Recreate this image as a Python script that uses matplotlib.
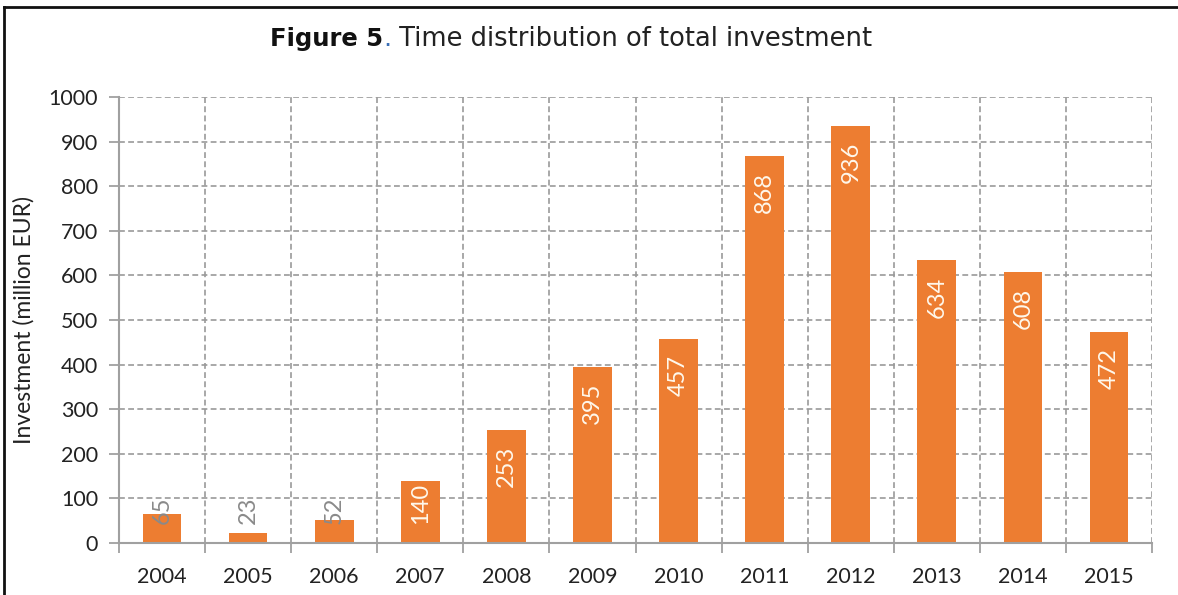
import matplotlib
matplotlib.use("Agg")
import matplotlib.pyplot as plt
from matplotlib.lines import Line2D
from matplotlib.transforms import offset_copy
import numpy as np

years = ["2004", "2005", "2006", "2007", "2008", "2009",
         "2010", "2011", "2012", "2013", "2014", "2015"]
investment = [65, 23, 52, 140, 253, 395, 457, 868, 936, 634, 608, 472]
y_ticks = [0, 100, 200, 300, 400, 500, 600, 700, 800, 900, 1000]

bar_color = "#ED7D31"
grid_color = "#9a9a9a"
axis_color = "#a0a0a0"
tick_font = "Lato"

fig = plt.figure(figsize=(11.78, 5.95), dpi=100)
ax = fig.add_axes([0.101, 0.0874, 0.877, 0.7496])

x = np.arange(len(years))
ax.bar(x, investment, width=0.45, color=bar_color, zorder=3)

ax.set_xlim(-0.5, len(years) - 0.5)
ax.set_ylim(0, 1000)
ax.set_yticks(y_ticks)
ax.set_yticklabels([str(v) for v in y_ticks], fontfamily=tick_font, fontsize=15.5, color="#222222")
ax.set_xticks(x)
ax.set_xticklabels(years, fontfamily=tick_font, fontsize=15.5, color="#222222")
ax.tick_params(axis="x", which="major", length=0, pad=17)
ax.set_xticks(np.arange(len(years) + 1) - 0.5, minor=True)
ax.tick_params(axis="x", which="minor", length=7, color=axis_color, width=1.3)
ax.tick_params(axis="y", which="major", length=7, color=axis_color, width=1.3, pad=8)

ax.grid(True, axis="y", which="major", linestyle=(0, (3.5, 2)), color=grid_color, linewidth=1.2, zorder=0)
ax.grid(True, axis="x", which="minor", linestyle=(0, (3.5, 2)), color=grid_color, linewidth=1.2, zorder=0)

for side in ("top", "right"):
    ax.spines[side].set_visible(False)
for side in ("left", "bottom"):
    ax.spines[side].set_color(axis_color)
    ax.spines[side].set_linewidth(1.5)
    ax.spines[side].set_zorder(4)

ax.set_ylabel("Investment (million EUR)", fontfamily=tick_font, fontsize=16.5, color="#222222", labelpad=10)

# value labels, rotated, just inside the top of each bar; short bars get grey labels near the base
for xi, v in zip(x, investment):
    label = str(v)
    min_top = 45 + 30 * len(label)
    if v - 36 >= min_top:
        ypos, col = v - 36, "#fff8ec"
    elif v >= 100:
        ypos, col = min_top, "#fff8ec"
    else:
        ypos, col = min_top, "#8a8a8a"
    ax.text(xi, ypos, label, rotation=90, ha="center", va="top",
            fontfamily=tick_font, fontsize=17, color=col, zorder=5)

# title: bold figure number, coloured full stop, then the caption, laid out one after another
title_y = 0.935
renderer = fig.canvas.get_renderer()
t1 = fig.text(270 / 1178, title_y, "Figure 5", fontfamily="DejaVu Sans", fontweight="bold",
              fontsize=17.5, color="#111111", ha="left", va="center")
w1 = t1.get_window_extent(renderer).width
t2 = fig.text(270 / 1178, title_y, ".", fontfamily="DejaVu Sans", fontsize=18.5, color="#3b6fb6",
              ha="left", va="center",
              transform=offset_copy(t1.get_transform(), fig=fig, x=w1 * 72 / fig.dpi, units="points"))
w2 = t2.get_window_extent(renderer).width
t3 = fig.text(270 / 1178, title_y, " Time distribution of total investment", fontfamily="DejaVu Sans",
              fontsize=18.5, color="#222222", ha="left", va="center",
              transform=offset_copy(t1.get_transform(), fig=fig, x=(w1 + w2) * 72 / fig.dpi, units="points"))

# frame lines along the top and left of the figure
fig.add_artist(Line2D([4 / 1178, 4 / 1178], [0, 1 - 7 / 595], transform=fig.transFigure,
                      color="#111111", linewidth=2))
fig.add_artist(Line2D([4 / 1178, 1], [1 - 7 / 595, 1 - 7 / 595], transform=fig.transFigure,
                      color="#111111", linewidth=2))

fig.savefig("out.png", dpi=100)
